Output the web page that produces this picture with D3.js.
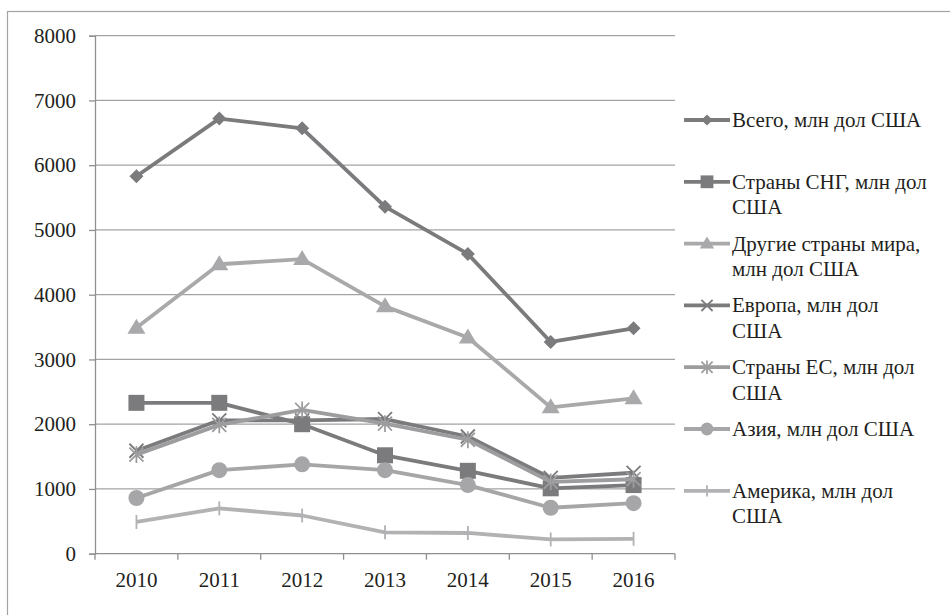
<!DOCTYPE html>
<html>
<head>
<meta charset="utf-8">
<script src="https://cdn.jsdelivr.net/npm/d3@7"></script>
<style>
body{margin:0;background:#fff;}
</style>
</head>
<body>
<div id="chart"></div>
<script>
// years on the x axis
var years = ["2010","2011","2012","2013","2014","2015","2016"];
var yTicks = [0,1000,2000,3000,4000,5000,6000,7000,8000];

// series values
var vsego   = [5830,6720,6570,5360,4630,3270,3480];
var sng     = [2330,2330,2000,1520,1280,1010,1060];
var drugie  = [3490,4470,4550,3820,3340,2260,2400];
var evropa  = [1590,2060,2060,2080,1810,1170,1250];
var es      = [1530,1990,2220,2010,1760,1110,1150];
var aziya   = [860,1290,1380,1290,1060,710,780];
var amerika = [490,700,590,330,320,220,230];

var seriesNames = [
	["Всего, млн дол США"],
	["Страны СНГ, млн дол","США"],
	["Другие страны мира,","млн дол США"],
	["Европа, млн дол","США"],
	["Страны ЕС, млн дол","США"],
	["Азия, млн дол США"],
	["Америка, млн дол","США"]
];
var seriesValues = [vsego, sng, drugie, evropa, es, aziya, amerika];
var seriesMarkers = ["diamond","square","triangle","cross","star","circle","bar"];
var seriesColors = ["#7b7b7d","#7b7b7d","#a9a9ab","#7b7b7d","#9d9d9f","#a6a6a8","#b2b2b4"];

var FONT = "'Liberation Serif', Tinos, 'Times New Roman', 'DejaVu Serif', serif";

var w = 950, h = 615;
var svg = d3.select("#chart").append("svg")
	.attr("width", w)
	.attr("height", h);

//outer frame
svg.append("rect")
	.attr("x", 7.5).attr("y", 11.5)
	.attr("width", 980).attr("height", 640)
	.attr("fill", "none").attr("stroke", "#a3a3a3").attr("stroke-width", 1.2);

var x = d3.scaleBand().domain(years).range([95, 675]);
var y = d3.scaleLinear().domain([0, 8000]).range([553.7, 35.7]);

//gridlines
svg.append("g")
	.selectAll("line")
	.data(yTicks.slice(1))
	.enter().append("line")
	.attr("x1", 95).attr("x2", 675)
	.attr("y1", function(d){ return y(d); })
	.attr("y2", function(d){ return y(d); })
	.attr("stroke", "#a3a3a3").attr("stroke-width", 1.3);

//y axis
var yAxis = svg.append("g")
	.attr("transform", "translate(95,0)")
	.call(d3.axisLeft(y).tickValues(yTicks).tickSize(6).tickPadding(13).tickFormat(d3.format("d")));
yAxis.attr("font-family", FONT).attr("font-size", 21);
yAxis.select(".domain").attr("stroke", "#8f8f91").attr("stroke-width", 1.3);
yAxis.selectAll(".tick line").attr("stroke", "#8f8f91").attr("stroke-width", 1.3);
yAxis.selectAll("text").style("font-family", FONT).style("font-size", "21px").attr("fill", "#231f20");

//x axis, ticks between categories
var xg = svg.append("g");
xg.append("line")
	.attr("x1", 95).attr("x2", 675)
	.attr("y1", y(0)).attr("y2", y(0))
	.attr("stroke", "#8f8f91").attr("stroke-width", 1.3);
var bounds = years.map(function(d){ return x(d); }).concat([x.range()[1]]);
xg.selectAll(".xt")
	.data(bounds)
	.enter().append("line")
	.attr("x1", function(d){ return d; }).attr("x2", function(d){ return d; })
	.attr("y1", y(0)).attr("y2", y(0) + 6)
	.attr("stroke", "#8f8f91").attr("stroke-width", 1.3);
xg.selectAll(".xl")
	.data(years)
	.enter().append("text")
	.attr("x", function(d){ return x(d) + x.bandwidth()/2; })
	.attr("y", y(0) + 33)
	.attr("text-anchor", "middle")
	.attr("fill", "#231f20")
	.style("font-family", FONT)
	.style("font-size", "21px")
	.text(function(d){ return d; });

function markerPath(type, s){
	var r;
	if(type=="diamond"){ r = 7*s; return "M0,"+(-r)+"L"+r+",0L0,"+r+"L"+(-r)+",0Z"; }
	if(type=="square"){ r = 8*s; return "M"+(-r)+","+(-r)+"H"+r+"V"+r+"H"+(-r)+"Z"; }
	if(type=="triangle"){ r = 9*s; return "M0,"+(-9*s)+"L"+r+","+(6*s)+"L"+(-r)+","+(6*s)+"Z"; }
	if(type=="circle"){ r = 8*s; return "M"+r+",0A"+r+","+r+" 0 1,1 "+(-r)+",0A"+r+","+r+" 0 1,1 "+r+",0Z"; }
	if(type=="cross"){ r = 7*s; return "M"+(-r)+","+(-r)+"L"+r+","+r+"M"+r+","+(-r)+"L"+(-r)+","+r; }
	if(type=="star"){ r = 7*s; return "M"+(-r)+","+(-r)+"L"+r+","+r+"M"+r+","+(-r)+"L"+(-r)+","+r+"M0,"+(-r*1.2)+"V"+(r*1.2); }
	if(type=="bar"){ r = 7*s; return "M0,"+(-r)+"V"+r; }
}
function isStroke(type){
	return type=="cross" || type=="star" || type=="bar";
}

function drawMarker(g, type, color, cx, cy, s){
	var p = g.append("path")
		.attr("d", markerPath(type, s))
		.attr("transform", "translate("+cx+","+cy+")");
	if(isStroke(type)){
		p.attr("fill", "none").attr("stroke", color).attr("stroke-width", 1.8);
	}else{
		p.attr("fill", color).attr("stroke", "none");
	}
}

var line = d3.line()
	.x(function(d, i){ return x(years[i]) + x.bandwidth()/2; })
	.y(function(d){ return y(d); });

//series, first one at the back
for(var k = 0; k < seriesValues.length; k++){
	var g = svg.append("g");
	g.append("path")
		.attr("d", line(seriesValues[k]))
		.attr("fill", "none")
		.attr("stroke", seriesColors[k])
		.attr("stroke-width", 3.8)
		.attr("stroke-linejoin", "round");
	for(var i = 0; i < years.length; i++){
		drawMarker(g, seriesMarkers[k], seriesColors[k], x(years[i]) + x.bandwidth()/2, y(seriesValues[k][i]), 1);
	}
}

//legend
var legend = svg.append("g");
for(var k = 0; k < seriesNames.length; k++){
	var ly = 120 + k*61.8;
	legend.append("line")
		.attr("x1", 684).attr("x2", 730)
		.attr("y1", ly).attr("y2", ly)
		.attr("stroke", seriesColors[k]).attr("stroke-width", 3.8);
	drawMarker(legend, seriesMarkers[k], seriesColors[k], 707, ly, 0.8);
	var t = legend.append("text")
		.attr("x", 732)
		.attr("y", ly + 7)
		.attr("fill", "#231f20")
		.style("font-family", FONT)
		.style("font-size", "21px");
	seriesNames[k].forEach(function(s, j){
		t.append("tspan").attr("x", 732).attr("dy", j==0 ? 0 : 25.5).text(s);
	});
}
</script>
</body>
</html>
